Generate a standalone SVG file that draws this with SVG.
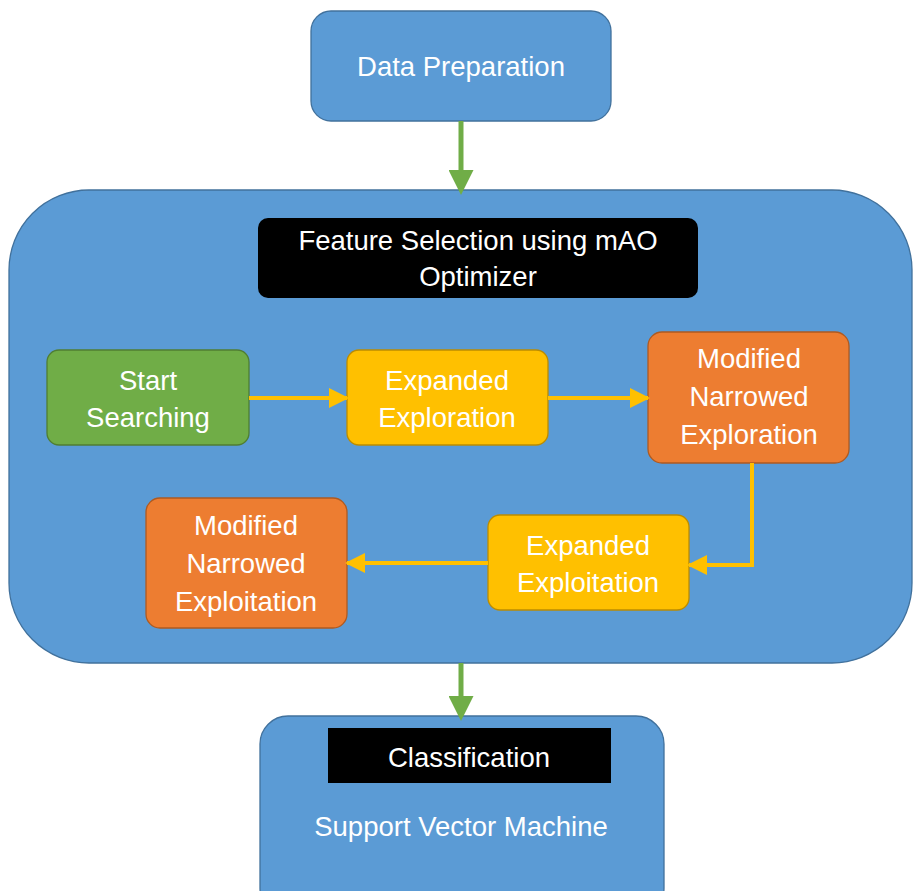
<svg xmlns="http://www.w3.org/2000/svg" width="913" height="891" viewBox="0 0 913 891">
<defs>
<style>
.blue{fill:#5B9BD5;stroke:#41719C;stroke-width:1.3}
.green{fill:#70AD47;stroke:#507E32;stroke-width:1.3}
.yellow{fill:#FFC000;stroke:#BC8C00;stroke-width:1.3}
.orange{fill:#ED7D31;stroke:#AE5A21;stroke-width:1.3}
.black{fill:#000}
text{font-family:"Liberation Sans",Arial,sans-serif;font-size:27.5px;fill:#fff;text-anchor:middle}
.g{stroke:#70AD47;stroke-width:5;fill:none}
.y{stroke:#FFC000;stroke-width:4;fill:none}
</style>
<marker id="ag" markerWidth="5" markerHeight="5" refX="4" refY="2.5" orient="auto" markerUnits="strokeWidth" viewBox="0 0 5 5"><path d="M0,0 L5,2.5 L0,5 Z" fill="#70AD47"/></marker>
<marker id="ay" markerWidth="5" markerHeight="5" refX="4.5" refY="2.5" orient="auto" markerUnits="strokeWidth" viewBox="0 0 5 5"><path d="M0,0 L5,2.5 L0,5 Z" fill="#FFC000"/></marker>
</defs>
<g id="container"><rect class="blue" x="9" y="190" width="903" height="473" rx="80"/></g>
<g id="data-preparation"><rect class="blue" x="311" y="11" width="300" height="110" rx="20"/><text x="461" y="76">Data Preparation</text></g>
<g id="feature-selection"><rect class="black" x="258" y="218" width="440" height="80" rx="10"/><text x="478" y="250">Feature Selection using mAO</text><text x="478" y="286">Optimizer</text></g>
<g id="start-searching"><rect class="green" x="47" y="350" width="202" height="95" rx="12"/><text x="148" y="390">Start</text><text x="148" y="427">Searching</text></g>
<g id="expanded-exploration"><rect class="yellow" x="347" y="350" width="201" height="95" rx="12"/><text x="447" y="390">Expanded</text><text x="447" y="427">Exploration</text></g>
<g id="mn-exploration"><rect class="orange" x="648" y="332" width="201" height="131" rx="14"/><text x="749" y="368">Modified</text><text x="749" y="406">Narrowed</text><text x="749" y="444">Exploration</text></g>
<g id="expanded-exploitation"><rect class="yellow" x="488" y="515" width="201" height="95" rx="12"/><text x="588" y="555">Expanded</text><text x="588" y="592">Exploitation</text></g>
<g id="mn-exploitation"><rect class="orange" x="146" y="498" width="201" height="130" rx="14"/><text x="246" y="535">Modified</text><text x="246" y="573">Narrowed</text><text x="246" y="611">Exploitation</text></g>
<g id="classification"><rect class="blue" x="260" y="716" width="404" height="200" rx="28"/><rect class="black" x="328" y="728" width="283" height="55"/><text x="469" y="767">Classification</text><text x="461" y="836">Support Vector Machine</text></g>
<g id="connectors">
<path class="g" d="M461,121 V190" marker-end="url(#ag)"/>
<path class="g" d="M461,663 V716" marker-end="url(#ag)"/>
<path class="y" d="M249,398 H347" marker-end="url(#ay)"/>
<path class="y" d="M548,398 H648" marker-end="url(#ay)"/>
<path class="y" d="M752,463 V565 H689" marker-end="url(#ay)"/>
<path class="y" d="M488,563 H347" marker-end="url(#ay)"/>
</g>
</svg>
